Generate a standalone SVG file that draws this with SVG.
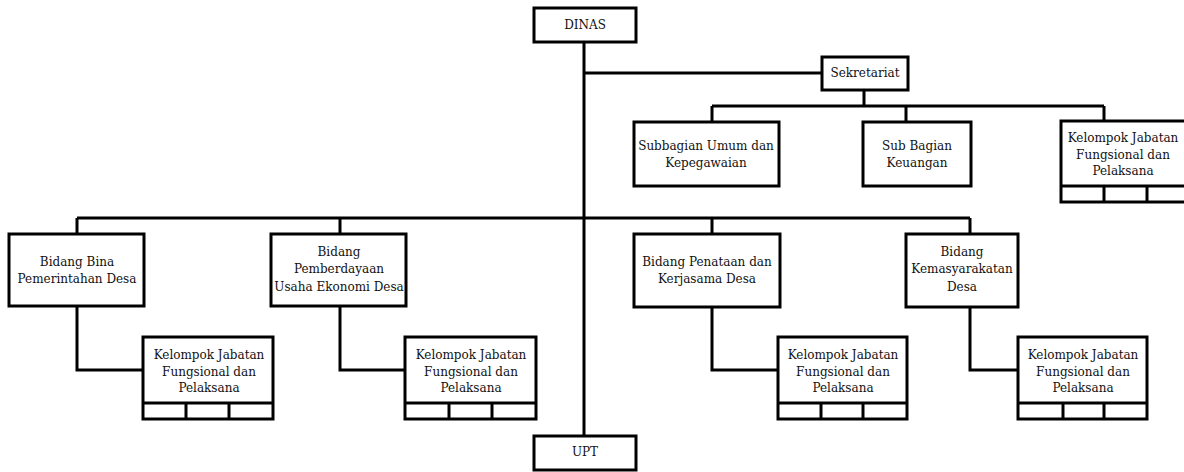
<svg xmlns="http://www.w3.org/2000/svg" width="1184" height="472" viewBox="0 0 1184 472">
<style>
.box{fill:#fff;stroke:#000;stroke-width:3}
.ln{fill:none;stroke:#000;stroke-width:3}
text{font-family:"DejaVu Serif","Liberation Serif",serif;font-size:12px;fill:#111;text-anchor:middle}
</style>
<rect width="1184" height="472" fill="#fff"/>
<g id="connectors" class="ln">
<path d="M584 42V436"/>
<path d="M584 73H822"/>
<path d="M864 90V106M712 106H1104M712 106V122M906 106V122M1104 106V121"/>
<path d="M77 218H970M77 218V234M340 218V234M712 218V234M970 218V234"/>
<path d="M77 306V370H143M340 306V370H405M712 307V370H778M970 307V370H1018"/>
</g>
<g id="dinas"><rect class="box" x="534" y="8" width="102" height="34"/><text x="585" y="29">DINAS</text></g>
<g id="sekretariat"><rect class="box" x="822" y="57" width="86" height="33"/><text x="865" y="77">Sekretariat</text></g>
<g id="subbagian-umum"><rect class="box" x="634" y="122" width="145" height="64"/><text x="706" y="150">Subbagian Umum dan</text><text x="706" y="167">Kepegawaian</text></g>
<g id="subbagian-keuangan"><rect class="box" x="863" y="122" width="108" height="64"/><text x="917" y="150">Sub Bagian</text><text x="917" y="167">Keuangan</text></g>
<g id="kelompok-sekretariat"><rect class="box" x="1061" y="121" width="130" height="81"/><path class="ln" d="M1061 186H1191M1104 186V202M1147 186V202"/><text x="1123" y="142">Kelompok Jabatan</text><text x="1123" y="159">Fungsional dan</text><text x="1123" y="175">Pelaksana</text></g>
<g id="bidang-bina"><rect class="box" x="9" y="234" width="135" height="72"/><text x="77" y="266">Bidang Bina</text><text x="77" y="283">Pemerintahan Desa</text></g>
<g id="bidang-pemberdayaan"><rect class="box" x="271" y="234" width="135" height="72"/><text x="339" y="256">Bidang</text><text x="339" y="273">Pemberdayaan</text><text x="339" y="291">Usaha Ekonomi Desa</text></g>
<g id="bidang-penataan"><rect class="box" x="634" y="234" width="146" height="73"/><text x="707" y="266">Bidang Penataan dan</text><text x="707" y="283">Kerjasama Desa</text></g>
<g id="bidang-kemasyarakatan"><rect class="box" x="906" y="234" width="112" height="73"/><text x="962" y="256">Bidang</text><text x="962" y="273">Kemasyarakatan</text><text x="962" y="291">Desa</text></g>
<g id="kelompok-1"><rect class="box" x="143" y="337" width="130" height="82"/><path class="ln" d="M143 403H273M186 403V419M229 403V419"/><text x="209" y="359">Kelompok Jabatan</text><text x="209" y="376">Fungsional dan</text><text x="209" y="392">Pelaksana</text></g>
<g id="kelompok-2"><rect class="box" x="405" y="337" width="131" height="82"/><path class="ln" d="M405 403H536M449 403V419M492 403V419"/><text x="471" y="359">Kelompok Jabatan</text><text x="471" y="376">Fungsional dan</text><text x="471" y="392">Pelaksana</text></g>
<g id="kelompok-3"><rect class="box" x="778" y="337" width="129" height="82"/><path class="ln" d="M778 403H907M821 403V419M863 403V419"/><text x="843" y="359">Kelompok Jabatan</text><text x="843" y="376">Fungsional dan</text><text x="843" y="392">Pelaksana</text></g>
<g id="kelompok-4"><rect class="box" x="1018" y="337" width="129" height="82"/><path class="ln" d="M1018 403H1147M1063 403V419M1104 403V419"/><text x="1083" y="359">Kelompok Jabatan</text><text x="1083" y="376">Fungsional dan</text><text x="1083" y="392">Pelaksana</text></g>
<g id="upt"><rect class="box" x="534" y="436" width="102" height="34"/><text x="585" y="456">UPT</text></g>
</svg>
